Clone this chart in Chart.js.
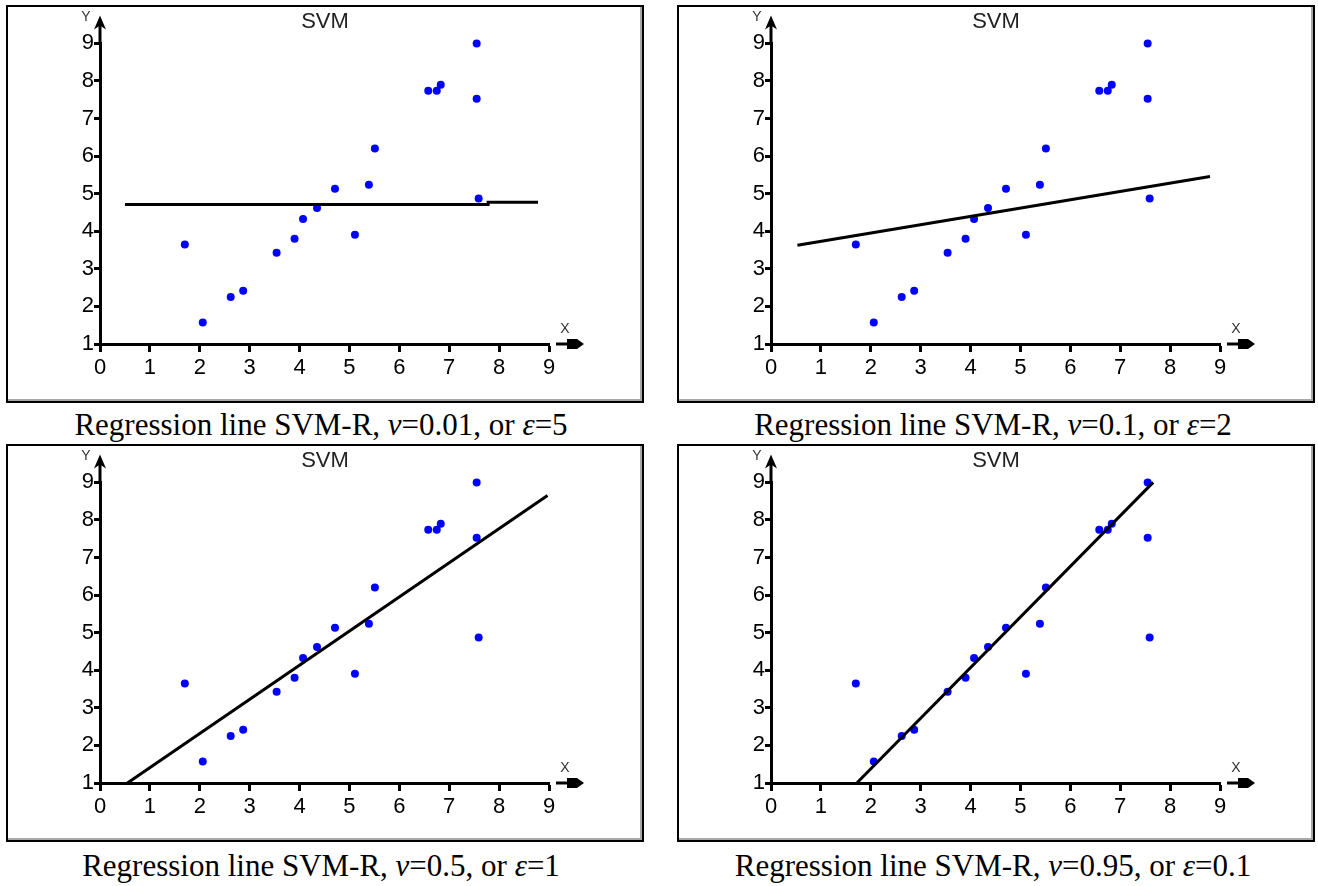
<!DOCTYPE html>
<html>
<head>
<meta charset="utf-8">
<script src="https://cdn.jsdelivr.net/npm/chart.js@4"></script>
<style>
  body { margin: 0; background: #fff; width: 1318px; height: 886px; position: relative; overflow: hidden; }
  .panel { position: absolute; width: 634px; height: 394px; border: 2px solid #000; box-shadow: inset -2px -2px 0 #a8a8a8; background: #fff; }
  .panel canvas { position: absolute; left: 0; top: 0; }
  .caption { position: absolute; width: 638px; text-align: center; font-family: "Liberation Serif", "Times New Roman", serif; font-size: 31px; line-height: 34px; color: #000; white-space: nowrap; }
</style>
</head>
<body>
<div class="panel" style="left:6px;top:5px"><canvas id="c0" width="634" height="394"></canvas></div>
<div class="panel" style="left:677px;top:5px"><canvas id="c1" width="634" height="394"></canvas></div>
<div class="panel" style="left:6px;top:444px"><canvas id="c2" width="634" height="394"></canvas></div>
<div class="panel" style="left:677px;top:444px"><canvas id="c3" width="634" height="394"></canvas></div>
<div class="caption" id="cap0" style="left:2px;top:408px"></div>
<div class="caption" id="cap1" style="left:674px;top:408px"></div>
<div class="caption" id="cap2" style="left:2px;top:849px"></div>
<div class="caption" id="cap3" style="left:674px;top:849px"></div>
<script>
// sample points (same in all four panels)
const pointX = [1.70, 2.06, 2.62, 2.87, 3.54, 3.90, 4.07, 4.35, 4.71, 5.11, 5.39, 5.51, 6.58, 6.75, 6.83, 7.55, 7.55, 7.59];
const pointY = [3.65, 1.57, 2.25, 2.42, 3.43, 3.80, 4.33, 4.62, 5.13, 3.91, 5.24, 6.20, 7.74, 7.74, 7.90, 9.00, 7.53, 4.87];

// regression lines per panel
const lineX1 = [0.50, 7.78, 7.78, 8.78];
const lineY1 = [4.71, 4.71, 4.77, 4.77];
const lineX2 = [0.53, 8.80];
const lineY2 = [3.63, 5.46];
const lineX3 = [0.55, 8.97];
const lineY3 = [1.00, 8.65];
const lineX4 = [1.72, 7.66];
const lineY4 = [1.00, 9.00];

const xTicks = [0, 1, 2, 3, 4, 5, 6, 7, 8, 9];
const yTicks = [1, 2, 3, 4, 5, 6, 7, 8, 9];

const nuValues = ['0.01', '0.1', '0.5', '0.95'];
const epsValues = ['5', '2', '1', '0.1'];

const lines = [[lineX1, lineY1], [lineX2, lineY2], [lineX3, lineY3], [lineX4, lineY4]];

Chart.defaults.font.family = '"Liberation Sans", Arial, sans-serif';
Chart.defaults.font.size = 22;
Chart.defaults.color = '#000';

// arrows on the axes and the X / Y letters
const axisArrows = {
    id: 'axisArrows',
    afterDraw(chart) {
        const { ctx, scales: { x, y } } = chart;
        const x0 = x.getPixelForValue(xTicks[0]);
        const xEnd = x.getPixelForValue(xTicks[xTicks.length - 1]);
        const yTop = y.getPixelForValue(yTicks[yTicks.length - 1]);
        const yBot = y.getPixelForValue(yTicks[0]);
        ctx.save();
        ctx.strokeStyle = '#000';
        ctx.fillStyle = '#000';
        ctx.lineWidth = 3;
        ctx.beginPath();
        ctx.moveTo(x0, yTop + 1);
        ctx.lineTo(x0, yTop - 20);
        ctx.stroke();
        ctx.beginPath();
        ctx.moveTo(x0, yTop - 28);
        ctx.lineTo(x0 - 6, yTop - 14);
        ctx.lineTo(x0, yTop - 18);
        ctx.lineTo(x0 + 6, yTop - 14);
        ctx.closePath();
        ctx.fill();

        ctx.beginPath();
        ctx.moveTo(xEnd + 7, yBot);
        ctx.lineTo(xEnd + 20, yBot);
        ctx.stroke();
        ctx.beginPath();
        ctx.moveTo(xEnd + 18, yBot - 5);
        ctx.lineTo(xEnd + 28, yBot - 5);
        ctx.lineTo(xEnd + 35, yBot);
        ctx.lineTo(xEnd + 28, yBot + 5);
        ctx.lineTo(xEnd + 18, yBot + 5);
        ctx.closePath();
        ctx.fill();

        ctx.fillStyle = '#333';
        ctx.font = '14px "Liberation Sans", Arial, sans-serif';
        ctx.textAlign = 'center';
        ctx.textBaseline = 'middle';
        ctx.fillText('Y', x0 - 14, yTop - 26);
        ctx.fillText('X', xEnd + 16, yBot - 15);
        ctx.restore();
    }
};

lines.forEach(([lx, ly], i) => {
    new Chart(document.getElementById('c' + i).getContext('2d'), {
        type: 'scatter',
        data: {
            datasets: [{
                label: 'data',
                data: pointX.map((v, k) => ({ x: v, y: pointY[k] })),
                pointRadius: 4,
                pointBackgroundColor: '#0000ff',
                pointBorderWidth: 0,
                clip: false,
                order: 1
            }, {
                label: 'SVM-R',
                data: lx.map((v, k) => ({ x: v, y: ly[k] })),
                showLine: true,
                borderColor: '#000',
                borderWidth: 3,
                pointRadius: 0,
                clip: false,
                order: 0
            }]
        },
        options: {
            responsive: false,
            animation: false,
            layout: { padding: 0 },
            plugins: {
                legend: { display: false },
                tooltip: { enabled: false },
                title: {
                    display: true,
                    text: 'SVM',
                    color: '#222',
                    font: { size: 22, weight: 'normal' },
                    padding: { top: 2, bottom: 8 }
                }
            },
            scales: {
                x: {
                    type: 'linear',
                    min: 0, max: 9,
                    afterFit: s => { s.height = 57; },
                    afterBuildTicks: s => { s.ticks = xTicks.map(v => ({ value: v })); },
                    ticks: { color: '#000', font: { size: 22 }, padding: 3 },
                    grid: { drawOnChartArea: false, drawTicks: true, tickLength: 8, tickWidth: 3, tickColor: '#000' },
                    border: { display: true, color: '#000', width: 3 }
                },
                y: {
                    type: 'linear',
                    min: 1, max: 9,
                    afterFit: s => { s.width = 92; },
                    afterBuildTicks: s => { s.ticks = yTicks.map(v => ({ value: v })); },
                    ticks: { color: '#000', font: { size: 22 }, padding: 0 },
                    grid: { drawOnChartArea: false, drawTicks: true, tickLength: 6, tickWidth: 3, tickColor: '#000' },
                    border: { display: true, color: '#000', width: 3 }
                },
                // empty space to the right of the plot
                yRight: {
                    type: 'linear',
                    position: 'right',
                    min: 1, max: 9,
                    afterFit: s => { s.width = 93; },
                    ticks: { display: false },
                    grid: { display: false },
                    border: { display: false }
                }
            }
        },
        plugins: [axisArrows]
    });

    document.getElementById('cap' + i).innerHTML =
        'Regression line SVM-R, <i>v</i>=' + nuValues[i] + ', or <i>\u03b5</i>=' + epsValues[i];
});
</script>
</body>
</html>
